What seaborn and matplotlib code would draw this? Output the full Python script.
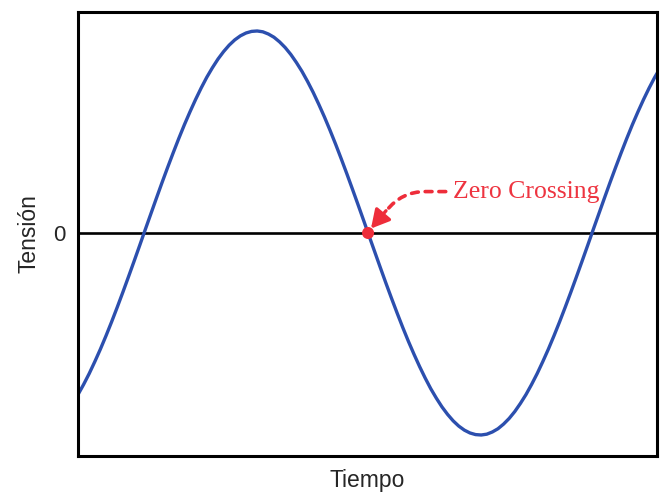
import matplotlib
matplotlib.use("Agg")
import matplotlib.pyplot as plt
import seaborn as sns
import pandas as pd

# Data (time in ms, voltage normalised to the peak)
tiempo = [0.00, 0.25, 0.50, 0.75, 1.00, 1.25, 1.50, 1.75, 2.00, 2.25, 2.50, 2.75,
          3.00, 3.25, 3.50, 3.75, 4.00, 4.25, 4.50, 4.75, 5.00, 5.25, 5.50, 5.75,
          6.00, 6.25, 6.50, 6.75, 7.00, 7.25, 7.50, 7.75, 8.00, 8.25, 8.50, 8.75,
          9.00, 9.25, 9.50, 9.75, 10.00, 10.25, 10.50, 10.75, 11.00, 11.25, 11.50, 11.75,
          12.00, 12.25, 12.50, 12.75, 13.00, 13.25, 13.50, 13.75, 14.00, 14.25, 14.50, 14.75,
          15.00, 15.25, 15.50, 15.75, 16.00, 16.25, 16.50, 16.75, 17.00, 17.25, 17.50, 17.75,
          18.00, 18.25, 18.50, 18.75, 19.00, 19.25, 19.50, 19.75, 20.00, 20.25, 20.50, 20.75,
          21.00, 21.25, 21.50, 21.75, 22.00, 22.25, 22.50, 22.75, 23.00, 23.25, 23.50, 23.75,
          24.00, 24.25, 24.50, 24.75, 25.00, 25.25, 25.50, 25.75, 26.00]
tension = [-0.800, -0.750, -0.696, -0.637, -0.575, -0.509, -0.440, -0.368, -0.294, -0.218, -0.141, -0.063,
           0.016, 0.094, 0.172, 0.249, 0.324, 0.397, 0.468, 0.536, 0.600, 0.661, 0.718, 0.771,
           0.818, 0.861, 0.898, 0.930, 0.956, 0.976, 0.990, 0.998, 1.000, 0.996, 0.985, 0.969,
           0.946, 0.918, 0.884, 0.844, 0.800, 0.750, 0.696, 0.637, 0.575, 0.509, 0.440, 0.368,
           0.294, 0.218, 0.141, 0.063, -0.016, -0.094, -0.172, -0.249, -0.324, -0.397, -0.468, -0.536,
           -0.600, -0.661, -0.718, -0.771, -0.818, -0.861, -0.898, -0.930, -0.956, -0.976, -0.990, -0.998,
           -1.000, -0.996, -0.985, -0.969, -0.946, -0.918, -0.884, -0.844, -0.800, -0.750, -0.696, -0.637,
           -0.575, -0.509, -0.440, -0.368, -0.294, -0.218, -0.141, -0.063, 0.016, 0.094, 0.172, 0.249,
           0.324, 0.397, 0.468, 0.536, 0.600, 0.661, 0.718, 0.771, 0.818]
cruce_t = [12.95]
cruce_v = [0.0]
ytick_vals = [0]
ytick_labels = ["0"]
anotacion = "Zero Crossing"

df = pd.DataFrame({"Tiempo": tiempo, "Tensión": tension})

sns.set_style("white")
plt.rcParams["font.family"] = ["Liberation Sans", "DejaVu Sans"]

fig = plt.figure(figsize=(6.64, 4.93), dpi=100)
ax = fig.add_axes([78 / 664, 37 / 493, 579 / 664, 444 / 493])

sns.lineplot(data=df, x="Tiempo", y="Tensión", ax=ax, color="#2c4fae", linewidth=2.4)
ax.axhline(0, color="black", linewidth=1.9, zorder=1)
sns.scatterplot(x=cruce_t, y=cruce_v, ax=ax, color="#ee2d3a", s=75, edgecolor="none", zorder=5)

red = "#ee2d3a"
# dashed connector from the label towards the crossing
ax.annotate(anotacion, xy=(13.7, 0.10), xytext=(16.75, 0.205),
            fontsize=18.5, color="#ee3440", family=["Liberation Serif", "DejaVu Serif"],
            va="center", ha="left",
            arrowprops=dict(arrowstyle="-", color=red, lw=2.6,
                            linestyle=(0, (1.9, 1.9)),
                            connectionstyle="angle,angleA=0,angleB=52,rad=24",
                            shrinkA=3, shrinkB=0))
# solid arrow head pointing at the crossing
ax.annotate("", xy=(13.08, 0.022), xytext=(13.75, 0.11),
            arrowprops=dict(arrowstyle="-|>,head_length=0.55,head_width=0.3",
                            mutation_scale=20, color=red, lw=2.4,
                            shrinkA=0, shrinkB=0))

ax.set_xlim(0, 25.85)
ax.set_ylim(-1.104, 1.094)
ax.set_xticks([])
ax.set_yticks(ytick_vals)
ax.set_yticklabels(ytick_labels, fontsize=16)
ax.tick_params(axis="y", length=0, pad=9)
ax.set_xlabel("Tiempo", fontsize=16.5, labelpad=9)
ax.set_ylabel("Tensión", fontsize=16.5, labelpad=9)

for s in ax.spines.values():
    s.set_visible(True)
    s.set_color("black")
    s.set_linewidth(2.2)

fig.savefig("out.png", dpi=100)
